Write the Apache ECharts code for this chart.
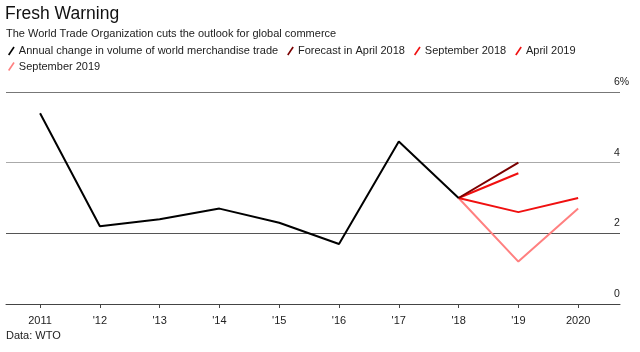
<!DOCTYPE html>
<html>
<head>
<meta charset="utf-8">
<script src="https://cdn.jsdelivr.net/npm/echarts@6/dist/echarts.min.js"></script>
<style>
  html, body { margin: 0; padding: 0; background: #fff; }
  #chart { width: 640px; height: 352px; }
</style>
</head>
<body>
<div id="chart"></div>
<script>
var years = [2011, 2012, 2013, 2014, 2015, 2016, 2017, 2018, 2019, 2020];
var tradeYears = [2011, 2012, 2013, 2014, 2015, 2016, 2017, 2018];
var tradeVolume = [5.4, 2.2, 2.4, 2.7, 2.3, 1.7, 4.6, 3.0];
var forecastYears = [2018, 2019, 2020];
var forecastApr2018 = [3.0, 4.0];
var forecastSep2018 = [3.0, 3.7];
var forecastApr2019 = [3.0, 2.6, 3.0];
var forecastSep2019 = [3.0, 1.2, 2.7];

var font = 'Liberation Sans, Arial, sans-serif';
// little slanted stroke used as legend marker
var slash = 'path://M0,8.4 L5.6,0 L7,1 L1.4,9.4 Z';

function pairs(xs, ys) {
  var out = [];
  for (var i = 0; i < ys.length; i++) out.push([xs[i], ys[i]]);
  return out;
}

function lineSeries(name, color, data, z) {
  return {
    name: name,
    type: 'line',
    data: data,
    showSymbol: false,
    symbol: 'none',
    z: z,
    lineStyle: { color: color, width: 2 },
    itemStyle: { color: color }
  };
}

function legendRow(top, names) {
  return {
    left: 8,
    top: top,
    itemWidth: 7,
    itemHeight: 9,
    itemGap: 9,
    padding: 0,
    icon: slash,
    textStyle: { fontSize: 11, color: '#222', fontFamily: font, padding: [0, 0, 0, -1] },
    data: names
  };
}

var option = {
  backgroundColor: '#fff',
  animation: false,
  textStyle: { fontFamily: font },
  title: [{
    text: 'Fresh Warning',
    left: 5,
    top: 5,
    padding: 0,
    textStyle: { fontSize: 17.5, fontWeight: 'normal', color: '#111', fontFamily: font }
  }, {
    text: 'The World Trade Organization cuts the outlook for global commerce',
    left: 6,
    top: 28,
    padding: 0,
    textStyle: { fontSize: 11, fontWeight: 'normal', color: '#222', fontFamily: font }
  }, {
    text: 'Data: WTO',
    left: 6,
    top: 330,
    padding: 0,
    textStyle: { fontSize: 11, fontWeight: 'normal', color: '#222', fontFamily: font }
  }],
  legend: [
    legendRow(45.5, ['Annual change in volume of world merchandise trade', 'Forecast in April 2018',
                     'September 2018', 'April 2019']),
    legendRow(61, ['September 2019'])
  ],
  grid: { left: 6, right: 20, top: 92, bottom: 48 },
  xAxis: {
    type: 'value',
    min: 2010.43,
    max: 2020.7,
    axisLine: { lineStyle: { color: '#444', width: 1 } },
    axisTick: { show: true, customValues: years, length: 4, lineStyle: { color: '#444' } },
    axisLabel: {
      customValues: years,
      margin: 11,
      fontSize: 11,
      color: '#222',
      fontFamily: font,
      formatter: function (v) {
        if (v === 2011 || v === 2020) return String(v);
        return '\'' + String(v).slice(2);
      }
    },
    splitLine: { show: false }
  },
  yAxis: {
    type: 'value',
    position: 'right',
    min: 0,
    max: 6,
    interval: 2,
    axisLine: { show: false },
    axisTick: { show: false },
    axisLabel: {
      margin: -6,
      align: 'left',
      verticalAlign: 'bottom',
      lineHeight: 20,
      fontSize: 10.5,
      color: '#222',
      fontFamily: font,
      formatter: function (v) { return v === 6 ? v + '%' : String(v); }
    },
    splitLine: { show: true, lineStyle: { color: ['#444', '#555', '#aaa', '#777'], width: 1 } }
  },
  series: [
    lineSeries('September 2019', '#ff8080', pairs(forecastYears, forecastSep2019), 2),
    lineSeries('April 2019', '#f01010', pairs(forecastYears, forecastApr2019), 3),
    lineSeries('September 2018', '#f01010', pairs(forecastYears, forecastSep2018), 3),
    lineSeries('Forecast in April 2018', '#7a0000', pairs(forecastYears, forecastApr2018), 4),
    lineSeries('Annual change in volume of world merchandise trade', '#000', pairs(tradeYears, tradeVolume), 5)
  ]
};

var myChart = echarts.init(document.getElementById('chart'));
myChart.setOption(option);
</script>
</body>
</html>
